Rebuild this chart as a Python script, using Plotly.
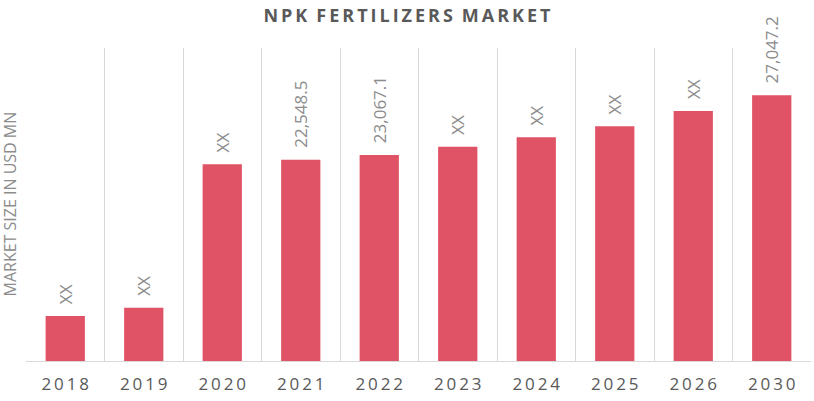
import plotly.graph_objects as go

# data
years = ["2018", "2019", "2020", "2021", "2022", "2023", "2024", "2025", "2026", "2030"]
market_size = [5040, 5970, 22030, 22548.5, 23067.1, 24000, 25050, 26290, 28000, 29760]
bar_labels = ["XX", "XX", "XX", "22,548.5", "23,067.1", "XX", "XX", "XX", "XX", "27,047.2"]

THIN = "\u2009"  # used to imitate the letter spacing of the original
NBSP = "\u00a0"


def spaced(s):
    return THIN.join(s)


fig = go.Figure()
fig.add_trace(go.Bar(
    x=years,
    y=market_size,
    # a couple of leading spaces give the wider gap above the bars
    text=[NBSP * 2 + t for t in bar_labels],
    textposition="outside",
    textangle=-90,
    constraintext="none",
    cliponaxis=False,
    textfont=dict(family="Open Sans", size=17, color="#8c8c8c"),
    marker=dict(color="#e05265", line=dict(width=0)),
))

title_text = "\u2002".join(spaced(w) for w in "NPK FERTILIZERS MARKET".split())

fig.update_layout(
    width=814,
    height=401,
    paper_bgcolor="white",
    plot_bgcolor="white",
    bargap=0.5,
    showlegend=False,
    margin=dict(l=26, r=3, t=48, b=40),
    title=dict(
        text="<b>" + title_text + "</b>",
        x=0.5, xanchor="center", y=0.96, yanchor="middle",
        font=dict(family="Open Sans", size=18, color="#595959"),
    ),
    font=dict(family="Open Sans"),
)

fig.update_xaxes(
    type="category",
    tickson="boundaries",
    tickvals=years,
    ticktext=[spaced(y) for y in years],
    showgrid=True,
    gridcolor="#d9d9d9",
    gridwidth=1,
    showline=True,
    linecolor="#d9d9d9",
    ticks="",
    ticklabelstandoff=8,
    automargin=False,
    tickfont=dict(family="Open Sans", size=17, color="#595959"),
)
fig.update_yaxes(
    range=[0, 35050],
    showgrid=False,
    zeroline=False,
    showticklabels=False,
    automargin=False,
)

fig.add_annotation(
    text="MARKET SIZE IN USD MN",
    xref="paper", yref="paper",
    x=0, y=0.5, xshift=-17,
    xanchor="center", yanchor="middle",
    textangle=-90, showarrow=False,
    font=dict(family="Open Sans", size=16, color="#8c8c8c"),
)

# drop the page margin so the figure sits at the window's corner
fig.write_html("out.html", config={"displayModeBar": False},
               post_script="document.body.style.margin='0';")
